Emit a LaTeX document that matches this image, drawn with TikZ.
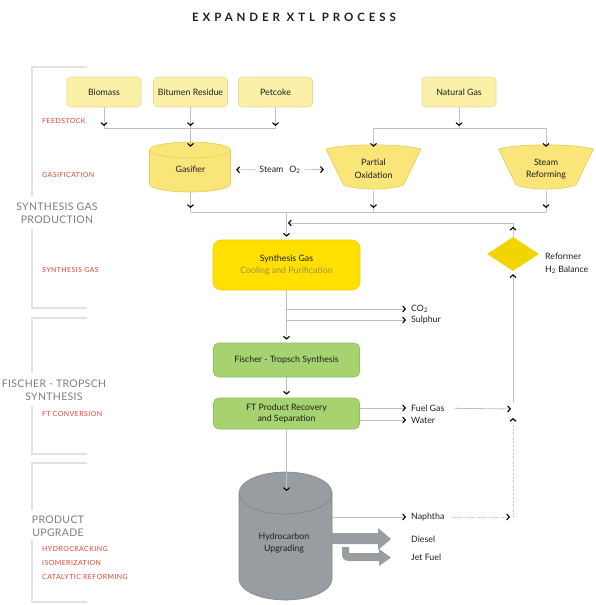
\documentclass[tikz,border=0pt]{standalone}
\usepackage{fontspec}
\setmainfont{Lato}
\newfontfamily\titlefont[LetterSpace=34]{Lato}
\newfontfamily\redfont[LetterSpace=6]{Lato}
\newfontfamily\grayfont[LetterSpace=3]{Lato}
\usetikzlibrary{arrows.meta,shapes.geometric,decorations.markings}
\definecolor{linegray}{RGB}{192,192,192}
\definecolor{brackgray}{RGB}{226,226,226}
\definecolor{labgray}{RGB}{125,125,125}
\definecolor{labred}{RGB}{232,65,50}
\definecolor{txt}{RGB}{30,30,30}
\definecolor{feedfill}{RGB}{251,240,168}
\definecolor{feedborder}{RGB}{232,218,145}
\definecolor{gasfill}{RGB}{249,229,120}
\definecolor{gasborder}{RGB}{228,205,90}
\definecolor{synfill}{RGB}{255,224,0}
\definecolor{synborder}{RGB}{240,208,0}
\definecolor{syntwo}{RGB}{160,145,80}
\definecolor{diafill}{RGB}{242,212,0}
\definecolor{ftfill}{RGB}{166,211,112}
\definecolor{ftborder}{RGB}{145,190,95}
\definecolor{cylfill}{RGB}{152,157,162}
\definecolor{cylborder}{RGB}{128,133,138}
\tikzset{
  conn/.style={draw=linegray, line width=0.8pt},
  dotline/.style={draw=linegray, line width=0.8pt, dash pattern=on 1.2pt off 1.2pt},
  tipend/.style={-{Straight Barb[length=2.6pt,width=6pt,line width=1.1pt,color=black]}},
  midtip/.style={postaction={decorate}, decoration={markings, mark=at position #1 with {\arrow{Straight Barb[length=2.6pt,width=6pt,line width=1.1pt,color=black]}}}},
  boxfont/.style={font=\fontsize{8.8}{12.5}\selectfont, text=txt},
  feed/.style={boxfont, draw=feedborder, fill=feedfill, line width=0.6pt, rounded corners=4pt, minimum width=74pt, minimum height=30pt, inner sep=1pt},
  ftbox/.style={boxfont, draw=ftborder, fill=ftfill, line width=0.6pt, rounded corners=5pt, minimum width=146pt, inner sep=1pt, align=center},
  lab/.style={boxfont, inner sep=2pt},
  redlab/.style={font=\redfont\fontsize{7}{8}\selectfont, text=labred, anchor=west, inner sep=0pt},
  graylab/.style={font=\grayfont\fontsize{10.5}{13.5}\selectfont, text=labgray, align=center, inner sep=1pt},
  brack/.style={draw=brackgray, line width=1.3pt}
}
\begin{document}
\begin{tikzpicture}[x=1pt,y=-1pt]
\useasboundingbox (0,0) rectangle (595,605);
% title
\node[font=\titlefont\bfseries\fontsize{11.5}{13}\selectfont, text=txt] (title) at (294,17) {EXPANDER XTL PROCESS};
% brackets
\draw[brack] (87,67) -- (32,67) -- (32,196);
\draw[brack] (32,229) -- (32,308) -- (87,308);
\draw[brack] (87,318) -- (32,318) -- (32,373);
\draw[brack] (32,406) -- (32,454) -- (87,454);
\draw[brack] (87,463) -- (32,463) -- (32,510);
\draw[brack] (32,540) -- (32,602) -- (87,602);
\node[graylab] (lsyn) at (57,213) {SYNTHESIS GAS\\PRODUCTION};
\node[graylab] (lft) at (54,390) {FISCHER - TROPSCH\\SYNTHESIS};
\node[graylab] (lpu) at (58,526) {PRODUCT\\UPGRADE};
\node[redlab] (r1) at (42,121) {FEEDSTOCK};
\node[redlab] (r2) at (42,175) {GASIFICATION};
\node[redlab] (r3) at (42,270) {SYNTHESIS GAS};
\node[redlab] (r4) at (42,414) {FT CONVERSION};
\node[redlab] (r5) at (42,549) {HYDROCRACKING};
\node[redlab] (r6) at (42,563) {ISOMERIZATION};
\node[redlab] (r7) at (42,577) {CATALYTIC REFORMING};
% feedstock
\node[feed] (bio) at (104,92) {Biomass};
\node[feed] (bit) at (190.5,92) {Bitumen Residue};
\node[feed] (pet) at (275.5,92) {Petcoke};
\node[feed] (ng) at (459,92) {Natural Gas};
% gasifier cylinder
\path[draw=gasborder, fill=gasfill, line width=0.6pt] (149.5,150) -- (149.5,184) arc[start angle=180, end angle=360, x radius=40.5pt, y radius=8pt] -- (230.5,150) arc[start angle=0, end angle=180, x radius=40.5pt, y radius=8pt] -- cycle;
\draw[gasborder, line width=0.6pt] (149.5,150) arc[start angle=180, end angle=360, x radius=40.5pt, y radius=8pt];
\node[boxfont, minimum width=81pt, minimum height=45pt, inner sep=0pt] (gasifier) at (190.5,169.5) {Gasifier};
% trapezoids
\foreach \cx in {373.5,546} {
  \path[draw=gasborder, fill=gasfill, line width=0.6pt] (\cx-47.5,149) .. controls (\cx-28,143.5) and (\cx+28,143.5) .. (\cx+47.5,149) -- (\cx+30,185) .. controls (\cx+15,190.5) and (\cx-15,190.5) .. (\cx-30,185) -- cycle;
}
\node[boxfont, align=center, minimum width=95pt, minimum height=44pt, inner sep=0pt] (pox) at (373.5,169) {Partial\\Oxidation};
\node[boxfont, align=center, minimum width=95pt, minimum height=44pt, inner sep=0pt] (sr) at (546,169) {Steam\\Reforming};
\node[lab, inner sep=4pt] (steam) at (280,170) {Steam\hspace{6pt}O\textsubscript{2}};
% feed connectors
\coordinate (fl) at (104,128);
\coordinate (fm) at (190.5,128);
\coordinate (fr) at (275.5,128);
\draw[conn] (fl) -- (fr);
\draw[conn, midtip=-2pt] (bio) -- (fl);
\draw[conn, midtip=-2pt] (bit) -- (fm);
\draw[conn, midtip=-2pt] (pet) -- (fr);
\draw[conn, tipend] (fm) -- (gasifier.north);
\coordinate (nl) at (373.5,128);
\coordinate (nm) at (459,128);
\coordinate (nr) at (546,128);
\draw[conn] (nl) -- (nr);
\draw[conn, midtip=-2pt] (ng) -- (nm);
\draw[conn, tipend] (nl) -- (pox.north);
\draw[conn, tipend] (nr) -- (sr.north);
\draw[conn, tipend, shorten >=5pt] (steam) -- (gasifier);
\draw[conn, tipend, shorten >=2pt] (steam) -- (pox);
% collect
\coordinate (bl) at (190.5,212);
\coordinate (bp) at (373.5,212);
\coordinate (bm) at (286.5,212);
\coordinate (br) at (546,212);
\draw[conn] (bl) -- (br);
\draw[conn, midtip=-4pt] (gasifier.south) -- (bl);
\draw[conn, midtip=-4pt] (pox.south) -- (bp);
\draw[conn, midtip=-4pt] (sr.south) -- (br);
% synthesis gas
\node[boxfont, draw=synborder, fill=synfill, line width=0.6pt, rounded corners=8pt, minimum width=147pt, minimum height=50pt, align=center, inner sep=1pt] (syn) at (286.5,265) {Synthesis Gas\\\textcolor{syntwo}{Cooling and Purification}};
\draw[conn, tipend, shorten >=3pt] (bm) -- (syn);
% reformer diamond
\node[diamond, fill=diafill, aspect=1.53, minimum width=52pt, minimum height=34pt, inner sep=0pt] (dia) at (513,254) {};
\node[lab, anchor=west, align=left] (refl) at (543,263.5) {Reformer\\H\textsubscript{2} Balance};
\coordinate (dc) at (513,223);
\coordinate (dl) at (286.5,223);
\draw[conn, tipend, midtip=10pt, shorten >=1.5pt] (dia) -- (dc) -- (dl);
% side products of syngas
\coordinate (s1) at (286.5,309);
\coordinate (s2) at (286.5,320);
\node[lab, anchor=west] (co2) at (409,309) {CO\textsubscript{2}};
\node[lab, anchor=west] (sul) at (409,320) {Sulphur};
\draw[conn, tipend, shorten >=3pt] (s1) -- (co2);
\draw[conn, tipend, shorten >=3pt] (s2) -- (sul);
% FT boxes
\node[ftbox, minimum height=34pt] (fts) at (286.5,360) {Fischer - Tropsch Synthesis};
\node[ftbox, minimum height=31pt, font=\fontsize{8.8}{11}\selectfont] (ftr) at (286.5,413.5) {FT Product Recovery\\and Separation};
\draw[conn, tipend, shorten >=3pt] (syn) -- (fts);
\draw[conn, tipend, shorten >=3pt] (fts) -- (ftr);
\node[lab, anchor=west] (fuel) at (409,408) {Fuel Gas};
\node[lab, anchor=west] (water) at (409,420) {Water};
\draw[conn, tipend, shorten >=3pt] (ftr.east |- fuel) -- (fuel);
\draw[conn, tipend, shorten >=3pt] (ftr.east |- water) -- (water);
\coordinate (jn) at (513,409);
\coordinate (jv) at (513,403);
\draw[conn, tipend, shorten <=8pt, shorten >=2pt] (fuel) -- (jn);
\draw[conn, tipend, shorten >=3pt] (jv) -- (dia);
% hydrocarbon upgrading cylinder
\path[draw=cylborder, fill=cylfill, line width=0.6pt] (239,493) -- (239,579) arc[start angle=180, end angle=360, x radius=46.5pt, y radius=21pt] -- (332,493) arc[start angle=0, end angle=180, x radius=46.5pt, y radius=21pt] -- cycle;
\draw[cylborder, line width=0.6pt] (239,493) arc[start angle=180, end angle=360, x radius=46.5pt, y radius=21pt];
\node[boxfont, align=center, minimum width=93pt, inner sep=0pt, font=\fontsize{8.8}{12}\selectfont] (hc) at (284,543) {Hydrocarbon\\Upgrading};
\coordinate (hctop) at (286.5,491);
\draw[conn, tipend] (ftr) -- (hctop);
% big product arrows
\fill[cylfill] (332,533) -- (378,533) -- (378,528) -- (391,539) -- (378,550) -- (378,544) -- (332,544) -- cycle;
\fill[cylfill] (342,547) -- (349,547) -- (349,553) -- (379,553) -- (379,549) -- (391,557.5) -- (379,566) -- (379,561) -- (349,561) .. controls (344.5,561) and (342,558.5) .. (342,554) -- cycle;
\node[lab, anchor=west] (nap) at (409,517) {Naphtha};
\node[lab, anchor=west] (dsl) at (409,539) {Diesel};
\node[lab, anchor=west] (jet) at (409,557) {Jet Fuel};
\coordinate (hcr) at (332,517);
\draw[conn, tipend, shorten >=3pt] (hcr) -- (nap);
\coordinate (nc) at (513,517);
\coordinate (nt) at (513,418);
\draw[dotline, tipend, shorten <=6pt, shorten >=3pt] (nap) -- (nc);
\draw[dotline, tipend] (nc) -- (nt);
\end{tikzpicture}
\end{document}
